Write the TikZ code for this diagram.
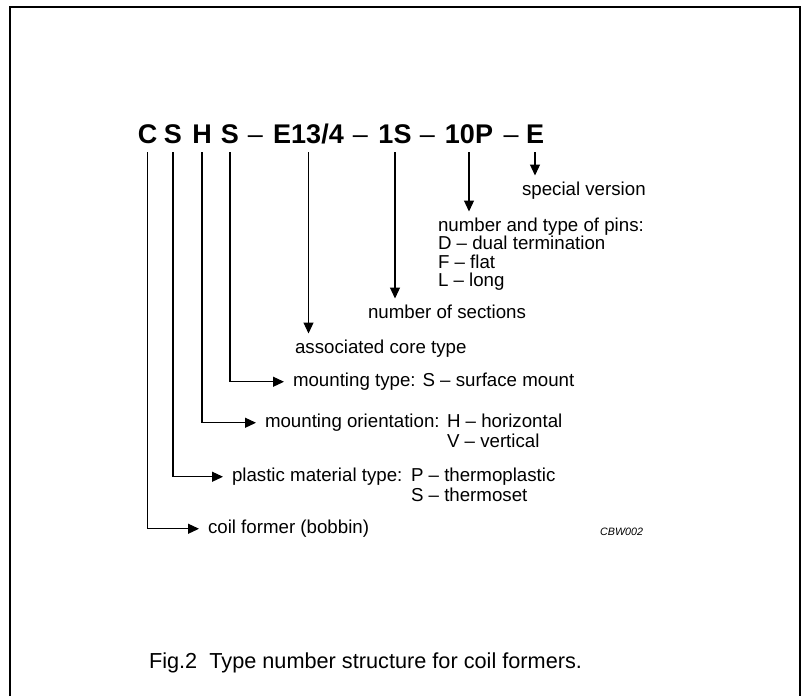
\documentclass[tikz,border=0pt]{standalone}
\usepackage{fontspec}
\setmainfont{Liberation Sans}
\usetikzlibrary{arrows.meta}
\newcommand{\linew}{1.2pt}
\newcommand{\labelsize}{\fontsize{18.7}{18.5}\selectfont}
\newcommand{\headsize}{\fontsize{27}{30}\selectfont}
\newcommand{\coretype}{E13/4}

\begin{document}
\begin{tikzpicture}[x=1pt,y=-1pt,
    head/.style={font=\bfseries\headsize, inner sep=0pt, outer ysep=9pt, text depth=0pt, anchor=base},
    dashsign/.style={head, font=\headsize},
    label/.style={font=\labelsize, inner sep=0pt, outer xsep=9pt, outer ysep=6pt,
                  text height=13.5pt, text depth=4pt, anchor=base west},
    arr/.style={-{Triangle[length=11pt,width=10pt]}, line width=\linew}]
\useasboundingbox (0,0) rectangle (802,696);
\draw[line width=1.5pt] (10,696) |- (800,7) -- (800,696);

% type number
\foreach\nm/\x/\t in {cC/147.5/C, cS/173/S, cH/202/H, cS2/230/S, cE/308.5/\coretype, cN/395/1S, cP/469/10P, cV/535/E} {
    \node[head] (\nm) at (\x,143) {\t};
}
\foreach\nm/\x in {d1/255.5, d2/360.5, d3/427.5, d4/511} {
    \node[dashsign] (\nm) at (\x,143) {--};
}

% labels
\node[label] (spec) at (513,195) {special version};
\node[label] (pins) at (429,231) {number and type of pins:};
\node[label] (pinD) at ([yshift=-18.5pt]pins.base west) {D -- dual termination};
\node[label] (pinF) at ([yshift=-18.5pt]pinD.base west) {F -- flat};
\node[label] (pinL) at ([yshift=-18.5pt]pinF.base west) {L -- long};
\node[label] (sect) at (359,318) {number of sections};
\node[label] (core) at (286,353) {associated core type};
\node[label] (mtype) at (284,386.5) {mounting type: S -- surface mount};
\node[label] (orient) at (256,427.5) {mounting orientation:};
\node[label] (orientH) at (438,427.5) {H -- horizontal};
\node[label] (orientV) at ([yshift=-20pt]orientH.base west) {V -- vertical};
\node[label] (plas) at (223,481.5) {plastic material type:};
\node[label] (plasP) at (402,481.5) {P -- thermoplastic};
\node[label] (plasS) at ([yshift=-20pt]plasP.base west) {S -- thermoset};
\node[label] (coil) at (199,533.5) {coil former (bobbin)};
\node[anchor=base west, inner sep=0pt, font=\itshape\fontsize{10.7}{12}\selectfont] (code) at (600,535) {CBW002};
\node[anchor=base, inner sep=0pt, font=\fontsize{21.7}{24}\selectfont] (cap) at (365.5,668) {Fig.2~ Type number structure for coil formers.};

% connectors
\draw[arr] (cV.south) -- (cV.south |- spec.north);
\draw[arr] (cP.south) -- (cP.south |- pins.north);
\draw[arr] (cN.south) -- (cN.south |- sect.north);
\draw[arr] (cE.south) -- (cE.south |- core.north);
\draw[arr] (cS2.south) |- (mtype.west);
\draw[arr] (cH.south) |- (orient.west);
\draw[arr] (cS.south) |- (plas.west);
\draw[arr] (cC.south) |- (coil.west);
\end{tikzpicture}
\end{document}
